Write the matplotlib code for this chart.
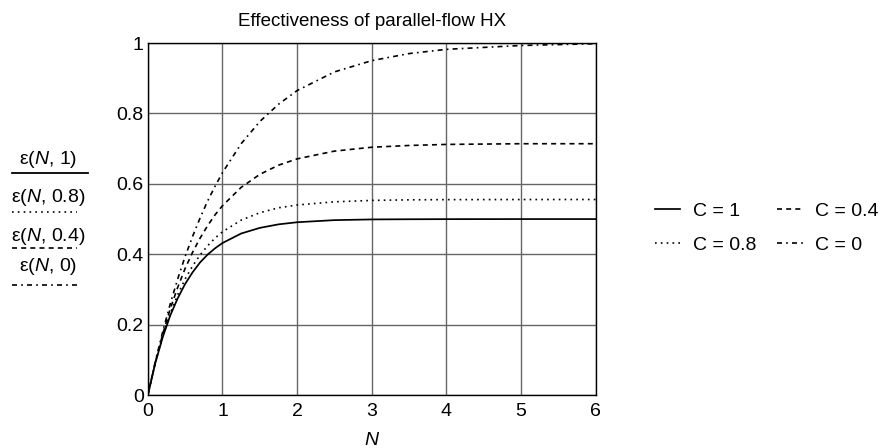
import matplotlib
matplotlib.use("Agg")
import matplotlib.pyplot as plt
from matplotlib.lines import Line2D

plt.rcParams["font.family"] = ["Liberation Sans", "DejaVu Sans"]
plt.rcParams["mathtext.fontset"] = "custom"
plt.rcParams["mathtext.rm"] = "Liberation Sans"
plt.rcParams["mathtext.it"] = "Liberation Sans:italic"

# ---------------------------------------------------------------------------
# Data
# ---------------------------------------------------------------------------
N = [0, 0.1, 0.2, 0.3, 0.4, 0.5, 0.6, 0.7, 0.8, 0.9, 1.0,
     1.25, 1.5, 1.75, 2, 2.5, 3, 3.5, 4, 5, 6]
eps_c1 = [0, 0.091, 0.165, 0.226, 0.275, 0.316, 0.349, 0.377, 0.399, 0.417,
          0.432, 0.459, 0.475, 0.485, 0.491, 0.497, 0.499, 0.4995, 0.4998,
          0.5, 0.5]
eps_c08 = [0, 0.092, 0.168, 0.232, 0.285, 0.330, 0.367, 0.398, 0.424, 0.446,
           0.464, 0.497, 0.518, 0.532, 0.540, 0.549, 0.553, 0.5546, 0.5552,
           0.5555, 0.5556]
eps_c04 = [0, 0.093, 0.174, 0.245, 0.306, 0.360, 0.406, 0.446, 0.481, 0.512,
           0.538, 0.590, 0.627, 0.653, 0.671, 0.693, 0.704, 0.709, 0.712,
           0.714, 0.714]
eps_c0 = [0, 0.095, 0.181, 0.259, 0.330, 0.394, 0.451, 0.503, 0.551, 0.593,
          0.632, 0.714, 0.777, 0.826, 0.865, 0.918, 0.950, 0.970, 0.982,
          0.993, 0.998]

series_labels = ["C = 1", "C = 0.8", "C = 0.4", "C = 0"]
ylabel_texts = ["ε($N$, 1)", "ε($N$, 0.8)", "ε($N$, 0.4)", "ε($N$, 0)"]
x_ticks = [0, 1, 2, 3, 4, 5, 6]
y_ticks = [0, 0.2, 0.4, 0.6, 0.8, 1]
y_tick_labels = ["0", "0.2", "0.4", "0.6", "0.8", "1"]

styles = [
    dict(linestyle="-", linewidth=1.25),
    dict(linestyle=(0, (1, 2.5)), linewidth=1.2),
    dict(linestyle=(0, (3, 2.5)), linewidth=1.2),
    dict(linestyle=(0, (3, 2.5, 1, 2.5)), linewidth=1.2),
]

# ---------------------------------------------------------------------------
# Plot
# ---------------------------------------------------------------------------
fig = plt.figure(figsize=(8.8, 4.48), dpi=100)
ax = fig.add_axes([0.168, 0.118, 0.509, 0.786])

for ys, lab, st in zip([eps_c1, eps_c08, eps_c04, eps_c0], series_labels, styles):
    ax.plot(N, ys, color="black", label=lab, **st)

ax.set_xlim(0, 6)
ax.set_ylim(0, 1)
ax.set_xticks(x_ticks)
ax.set_yticks(y_ticks)
ax.set_yticklabels(y_tick_labels)
ax.tick_params(length=0, labelsize=14)
ax.tick_params(axis="y", pad=3)
ax.tick_params(axis="x", pad=6)
ax.grid(True, color="#666666", linewidth=1.0)
ax.set_axisbelow(True)
for sp in ax.spines.values():
    sp.set_color("black")
    sp.set_linewidth(1.0)

ax.set_title("Effectiveness of parallel-flow HX", fontsize=13.5, pad=12)
ax.set_xlabel("$N$", fontsize=14, labelpad=8)

# stacked y-label with line-style underlines (Mathcad style)
label_y = [0.643, 0.560, 0.473, 0.405]
for txt, yy in zip(ylabel_texts, label_y):
    fig.text(0.055, yy, txt, fontsize=14, ha="center", va="center")
fig.add_artist(Line2D([0.0136, 0.1], [0.614, 0.614], color="black",
                      linewidth=1.3, transform=fig.transFigure))
for yy, st in zip([0.527, 0.446, 0.364], styles[1:]):
    fig.add_artist(Line2D([0.014, 0.088], [yy, yy], color="black",
                          transform=fig.transFigure, **st))

ax.legend(loc="center left", bbox_to_anchor=(0.724, 0.491),
          bbox_transform=fig.transFigure, ncol=2, frameon=False,
          fontsize=14, handlelength=1.3, handletextpad=0.65,
          columnspacing=1.1, labelspacing=0.85)

fig.savefig("out.png", dpi=100)
